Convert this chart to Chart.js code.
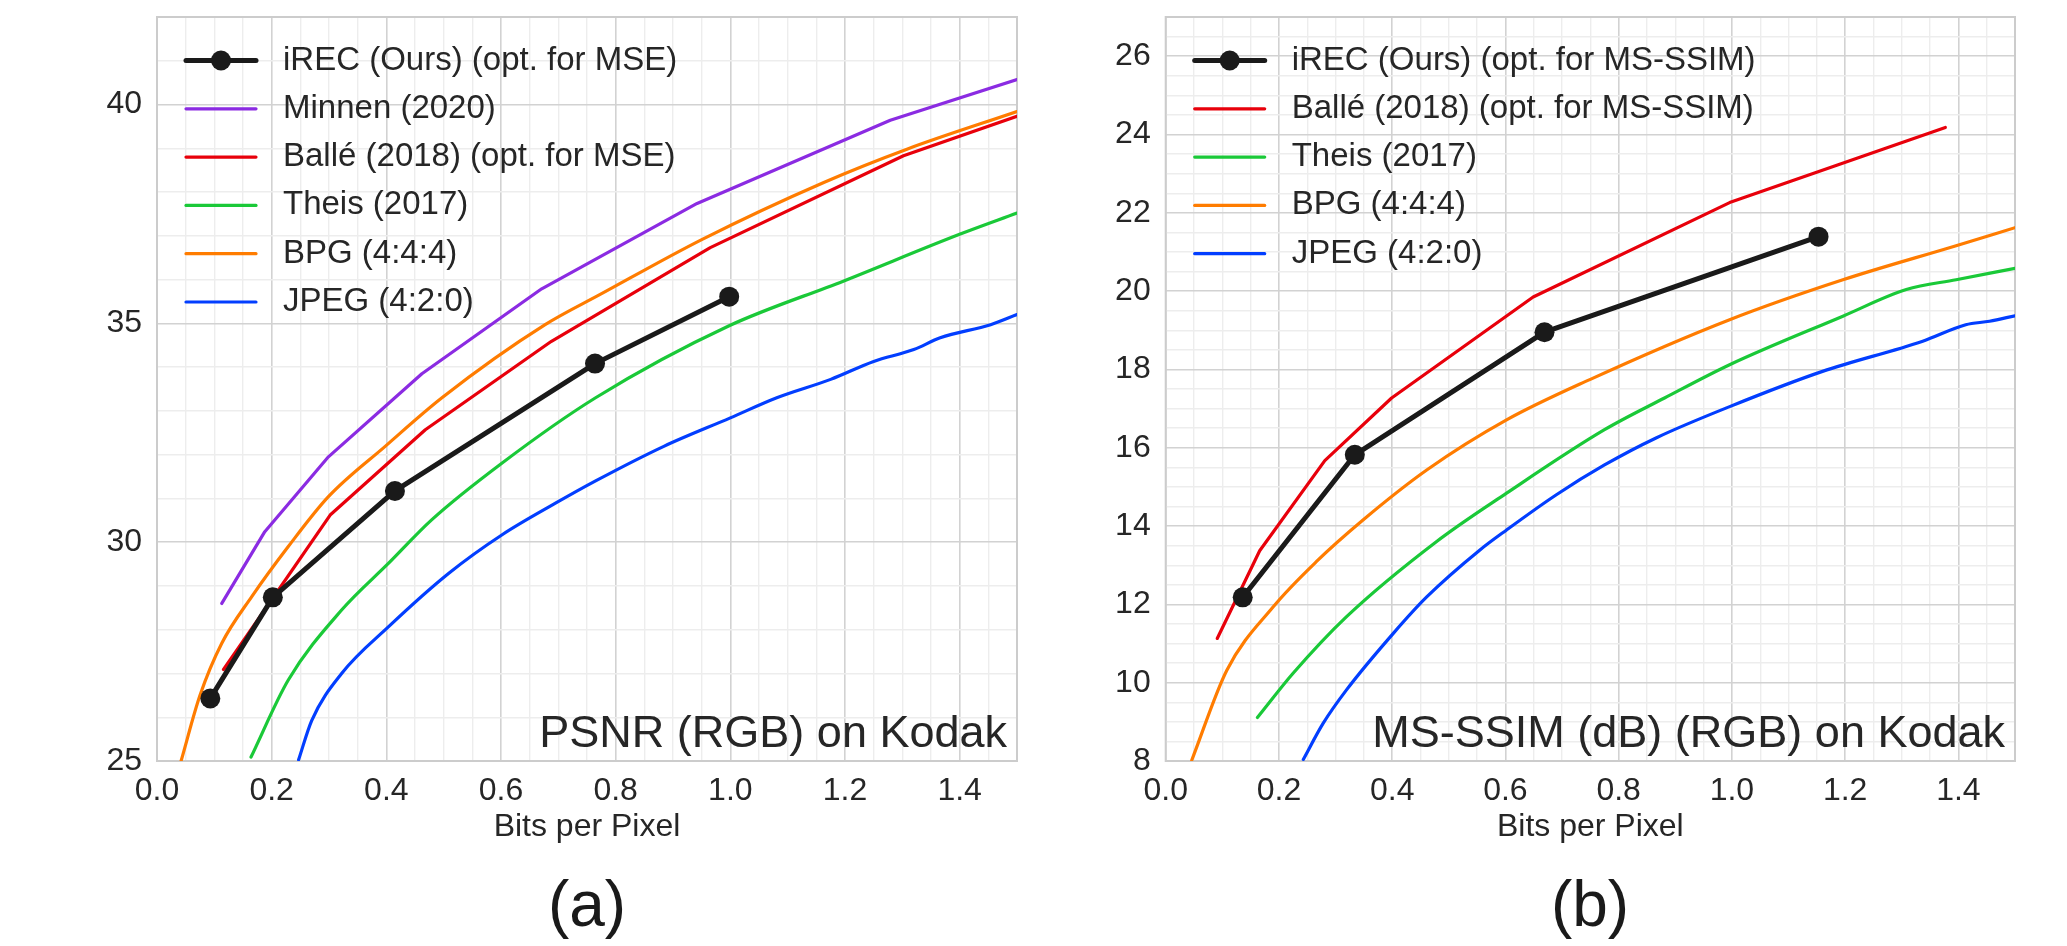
<!DOCTYPE html>
<html>
<head>
<meta charset="utf-8">
<title>iREC rate-distortion on Kodak</title>
<script src="https://cdn.jsdelivr.net/npm/chart.js@4.4.0/dist/chart.umd.min.js"></script>
<style>
  html, body { margin: 0; padding: 0; background: #fff; }
  body { width: 2067px; height: 946px; position: relative; overflow: hidden; font-family: "Liberation Sans", Arial, sans-serif; }
  canvas { position: absolute; top: 0; }
  #psnrChart { left: 0; }
  #ssimChart { left: 1040px; }
  .panel-tag { position: absolute; top: 872px; font-size: 64px; line-height: 64px; color: #1a1a1a; transform: translateX(-50%); }
</style>
</head>
<body>
<canvas id="psnrChart" width="1040" height="850"></canvas>
<canvas id="ssimChart" width="1027" height="850"></canvas>
<div class="panel-tag" style="left:587px">(a)</div>
<div class="panel-tag" style="left:1590px">(b)</div>
<script>
// tick labels
const bppTickLabels = ["0.0", "0.2", "0.4", "0.6", "0.8", "1.0", "1.2", "1.4"];
const psnrTickLabels = ["25", "30", "35", "40"];
const ssimTickLabels = ["8", "10", "12", "14", "16", "18", "20", "22", "24", "26"];

// (a) PSNR (RGB) on Kodak, [bits per pixel, dB]
const psnrIrec = [[0.093, 26.43], [0.202, 28.74], [0.415, 31.17], [0.764, 34.08], [0.998, 35.61]];
const psnrMinnen = [[0.113, 28.6], [0.188, 30.24], [0.299, 31.95], [0.462, 33.85], [0.671, 35.79], [0.942, 37.74], [1.279, 39.64], [1.5, 40.57]];
const psnrBalle = [[0.116, 27.09], [0.302, 30.62], [0.468, 32.57], [0.688, 34.59], [0.965, 36.73], [1.302, 38.83], [1.5, 39.73]];
const psnrTheis = [[0.164, 25.09], [0.229, 26.85], [0.322, 28.45], [0.404, 29.52], [0.479, 30.51], [0.602, 31.81], [0.765, 33.3], [0.997, 34.94], [1.198, 35.97], [1.401, 37.04], [1.5, 37.52]];
const psnrBpg = [[0.042, 25.0], [0.075, 26.5], [0.113, 27.69], [0.165, 28.75], [0.229, 29.9], [0.299, 31.04], [0.398, 32.19], [0.497, 33.3], [0.677, 34.97], [0.773, 35.66], [0.951, 36.92], [1.163, 38.22], [1.308, 38.98], [1.5, 39.84]];
const psnrJpeg = [[0.247, 25.03], [0.27, 25.93], [0.322, 27.0], [0.404, 28.07], [0.509, 29.29], [0.602, 30.17], [0.695, 30.89], [0.765, 31.4], [0.884, 32.19], [1.0, 32.84], [1.081, 33.3], [1.175, 33.72], [1.25, 34.13], [1.32, 34.4], [1.366, 34.67], [1.454, 34.97], [1.5, 35.2]];

// (b) MS-SSIM (dB) (RGB) on Kodak, [bits per pixel, dB]
const ssimIrec = [[0.136, 12.18], [0.334, 15.82], [0.669, 18.95], [1.153, 21.39]];
const ssimBalle = [[0.091, 11.13], [0.166, 13.37], [0.281, 15.67], [0.399, 17.27], [0.649, 19.85], [0.996, 22.26], [1.377, 24.18]];
const ssimTheis = [[0.162, 9.11], [0.225, 10.24], [0.319, 11.68], [0.478, 13.6], [0.602, 14.84], [0.775, 16.46], [0.881, 17.27], [0.996, 18.12], [1.196, 19.36], [1.308, 20.04], [1.396, 20.29], [1.5, 20.58]];
const ssimBpg = [[0.046, 8.02], [0.108, 10.32], [0.19, 11.94], [0.266, 13.09], [0.349, 14.16], [0.461, 15.43], [0.602, 16.71], [0.749, 17.74], [0.996, 19.27], [1.196, 20.29], [1.396, 21.16], [1.5, 21.62]];
const ssimJpeg = [[0.243, 8.04], [0.278, 8.96], [0.319, 9.81], [0.402, 11.26], [0.461, 12.19], [0.555, 13.39], [0.602, 13.9], [0.69, 14.8], [0.775, 15.56], [0.866, 16.25], [0.996, 17.05], [1.16, 17.95], [1.337, 18.72], [1.413, 19.14], [1.455, 19.23], [1.5, 19.37]];

const colors = {
  irec: "#1a1a1a",
  minnen: "#8b2be2",
  balle: "#e8000b",
  theis: "#1ac938",
  bpg: "#ff7c00",
  jpeg: "#023eff",
};

Chart.defaults.font.family = "'Liberation Sans', Arial, sans-serif";
Chart.defaults.color = "#262626";

function toPoints(pairs) {
  return pairs.map((p) => ({ x: p[0], y: p[1] }));
}

function line(label, pairs, color, smooth) {
  return {
    label: label,
    data: toPoints(pairs),
    borderColor: color,
    backgroundColor: color,
    borderWidth: 3.2,
    pointRadius: 0,
    fill: false,
    tension: 0,
    cubicInterpolationMode: smooth ? "monotone" : "default",
    borderCapStyle: "round",
    borderJoinStyle: "round",
    clip: 0,
  };
}

function ours(label, pairs) {
  const ds = line(label, pairs, colors.irec, false);
  ds.borderWidth = 5;
  ds.pointRadius = 10;
  ds.pointBorderWidth = 0;
  return ds;
}

function labelFor(labels, v) {
  const hit = labels.find((l) => Math.abs(parseFloat(l) - v) < 1e-6);
  return hit === undefined ? "" : hit;
}

function stepTicks(min, max, step) {
  const out = [];
  const n = Math.round((max - min) / step);
  for (let i = 0; i <= n; i++) out.push({ value: Math.round((min + i * step) * 1000) / 1000 });
  return out;
}

// one axis: minor grid every step, darker grid + label where a tick label exists
function axis(min, max, step, labels, fit, pad, extra) {
  return Object.assign({
    type: "linear",
    min: min,
    max: max,
    afterBuildTicks: (s) => { s.ticks = stepTicks(min, max, step); },
    afterFit: fit,
    border: { display: false },
    grid: {
      drawTicks: false,
      color: (c) => (c.tick && labelFor(labels, c.tick.value) !== "" ? "#d2d2d2" : "#ededed"),
      lineWidth: (c) => (c.tick && labelFor(labels, c.tick.value) !== "" ? 1.6 : 1.4),
    },
    ticks: {
      autoSkip: false,
      maxRotation: 0,
      padding: pad,
      font: { size: 32 },
      color: "#262626",
      callback: (v) => labelFor(labels, v),
    },
  }, extra);
}

// frame, in-axes legend and the corner note
const panelDecor = {
  id: "panelDecor",
  beforeDatasetsDraw(chart) {
    const a = chart.chartArea;
    const ctx = chart.ctx;
    ctx.save();
    ctx.strokeStyle = "#cccccc";
    ctx.lineWidth = 2;
    ctx.strokeRect(a.left, a.top, a.right - a.left, a.bottom - a.top);
    ctx.restore();
  },
  afterDatasetsDraw(chart, args, opts) {
    const a = chart.chartArea;
    const ctx = chart.ctx;
    ctx.save();
    ctx.lineCap = "round";
    chart.data.datasets.forEach((ds, i) => {
      const y = a.top + 43.5 + i * 48.3;
      ctx.strokeStyle = ds.borderColor;
      ctx.lineWidth = ds.borderWidth;
      ctx.beginPath();
      ctx.moveTo(a.left + 29, y);
      ctx.lineTo(a.left + 99, y);
      ctx.stroke();
      if (ds.pointRadius > 0) {
        ctx.fillStyle = ds.borderColor;
        ctx.beginPath();
        ctx.arc(a.left + 64, y, ds.pointRadius, 0, Math.PI * 2);
        ctx.fill();
      }
      ctx.fillStyle = "#262626";
      ctx.font = "33px 'Liberation Sans', Arial, sans-serif";
      ctx.textAlign = "left";
      ctx.textBaseline = "middle";
      ctx.fillText(ds.label, a.left + 126, y);
    });
    ctx.font = "45px 'Liberation Sans', Arial, sans-serif";
    ctx.textAlign = "right";
    ctx.textBaseline = "alphabetic";
    ctx.fillStyle = "#262626";
    ctx.fillText(opts.note, a.right - 10, a.bottom - 14);
    ctx.restore();
  },
};

function makeChart(id, datasets, yMin, yMax, yStep, yLabels, yWidth, rightPad, note) {
  const ctx = document.getElementById(id).getContext("2d");
  return new Chart(ctx, {
    type: "line",
    data: { datasets: datasets },
    plugins: [panelDecor],
    options: {
      responsive: false,
      animation: false,
      events: [],
      layout: { padding: { top: 17, right: rightPad, left: 0, bottom: 0 } },
      scales: {
        x: axis(0, 1.5, 0.05, bppTickLabels, (s) => {
          s.height = 89;
          s.paddingLeft = 0;
          s.paddingRight = 0;
        }, 11, {
          title: { display: true, text: "Bits per Pixel", font: { size: 32 }, color: "#262626", padding: { top: 0, bottom: 4 } },
        }),
        y: axis(yMin, yMax, yStep, yLabels, (s) => {
          s.width = yWidth;
          s.paddingTop = 0;
          s.paddingBottom = 0;
        }, 15, {}),
      },
      plugins: {
        legend: { display: false },
        tooltip: { enabled: false },
        panelDecor: { note: note },
      },
    },
  });
}

makeChart("psnrChart", [
  ours("iREC (Ours) (opt. for MSE)", psnrIrec),
  line("Minnen (2020)", psnrMinnen, colors.minnen, false),
  line("Ballé (2018) (opt. for MSE)", psnrBalle, colors.balle, false),
  line("Theis (2017)", psnrTheis, colors.theis, true),
  line("BPG (4:4:4)", psnrBpg, colors.bpg, true),
  line("JPEG (4:2:0)", psnrJpeg, colors.jpeg, true),
], 25, 42, 1, psnrTickLabels, 157, 23, "PSNR (RGB) on Kodak");

makeChart("ssimChart", [
  ours("iREC (Ours) (opt. for MS-SSIM)", ssimIrec),
  line("Ballé (2018) (opt. for MS-SSIM)", ssimBalle, colors.balle, false),
  line("Theis (2017)", ssimTheis, colors.theis, true),
  line("BPG (4:4:4)", ssimBpg, colors.bpg, true),
  line("JPEG (4:2:0)", ssimJpeg, colors.jpeg, true),
], 8, 27, 0.5, ssimTickLabels, 125.7, 52, "MS-SSIM (dB) (RGB) on Kodak");
</script>
</body>
</html>
